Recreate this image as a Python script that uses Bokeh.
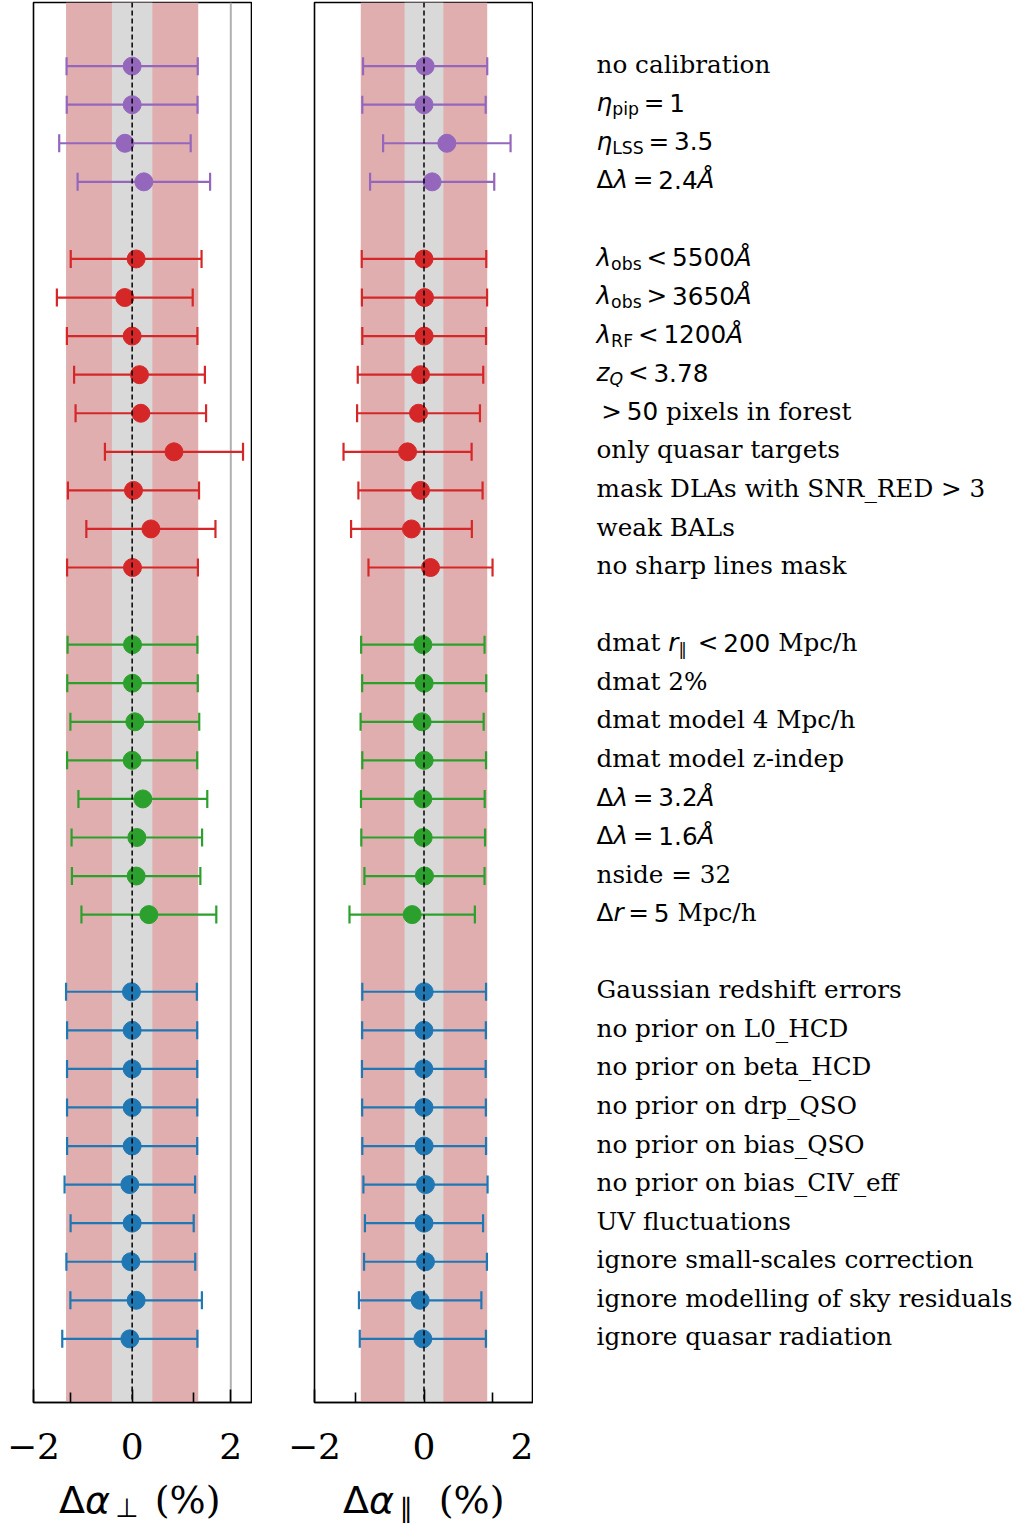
import numpy as np
from bokeh.plotting import figure
from bokeh.layouts import row, column
from bokeh.models import (Range1d, FixedTicker, CustomJSTickFormatter, Span,
                          BoxAnnotation, ColumnDataSource)
from bokeh.core.properties import value
from bokeh.embed import file_html
from bokeh.resources import INLINE

# ---------------- data ----------------
labels_purple = ["no calibration", "η_pip = 1", "η_LSS = 3.5", "Δλ = 2.4Å"]
perp_purple = [0.0, 0.0, -0.146, 0.237]
perp_err_purple = [1.330, 1.326, 1.333, 1.343]
par_purple = [0.021, 0.0, 0.417, 0.149]
par_err_purple = [1.134, 1.127, 1.164, 1.134]

labels_red = ["λ_obs < 5500Å", "λ_obs > 3650Å", "λ_RF < 1200Å", "z_Q < 3.78",
              "> 50 pixels in forest", "only quasar targets",
              "mask DLAs with SNR_RED > 3", "weak BALs", "no sharp lines mask"]
perp_red = [0.081, -0.149, 0.0, 0.149, 0.176, 0.848, 0.027, 0.380, 0.007]
perp_err_red = [1.326, 1.377, 1.323, 1.326, 1.323, 1.400, 1.329, 1.309, 1.326]
par_red = [0.0, 0.009, 0.003, -0.064, -0.100, -0.300, -0.064, -0.229, 0.119]
par_err_red = [1.137, 1.143, 1.130, 1.146, 1.122, 1.170, 1.134, 1.103, 1.133]

labels_green = ["dmat r_∥ < 200 Mpc/h", "dmat 2%", "dmat model 4 Mpc/h",
                "dmat model z-indep", "Δλ = 3.2Å", "Δλ = 1.6Å", "nside = 32",
                "Δr = 5 Mpc/h"]
perp_green = [0.007, 0.007, 0.054, 0.0, 0.217, 0.095, 0.081, 0.339]
perp_err_green = [1.316, 1.323, 1.306, 1.319, 1.306, 1.323, 1.302, 1.367]
par_green = [-0.021, 0.003, -0.034, 0.003, -0.021, -0.015, 0.009, -0.216]
par_err_green = [1.127, 1.133, 1.124, 1.130, 1.130, 1.130, 1.097, 1.145]

labels_blue = ["Gaussian redshift errors", "no prior on L0_HCD",
               "no prior on beta_HCD", "no prior on drp_QSO",
               "no prior on bias_QSO", "no prior on bias_CIV_eff",
               "UV fluctuations", "ignore small-scales correction",
               "ignore modelling of sky residuals", "ignore quasar radiation"]
perp_blue = [-0.014, 0.0, 0.0, 0.0, 0.0, -0.047, 0.0, -0.027, 0.081, -0.047]
perp_err_blue = [1.326, 1.319, 1.320, 1.320, 1.319, 1.323, 1.248, 1.306, 1.333, 1.370]
par_blue = [0.003, 0.0, -0.003, 0.0, 0.003, 0.027, 0.0, 0.027, -0.070, -0.021]
par_err_blue = [1.130, 1.130, 1.130, 1.130, 1.130, 1.134, 1.079, 1.122, 1.118, 1.152]

# reference bands (1 sigma and core) for each parameter
band_perp = 1.34
core_perp = 0.41
band_par = 1.155
core_par = 0.355

x_ticks = [-2, 0, 2]
x_minor_ticks = [-1.25, 1.25]

groups = [
    dict(color="#9467bd", labels=labels_purple, perp=perp_purple, perp_err=perp_err_purple,
         par=par_purple, par_err=par_err_purple),
    dict(color="#d62728", labels=labels_red, perp=perp_red, perp_err=perp_err_red,
         par=par_red, par_err=par_err_red),
    dict(color="#2ca02c", labels=labels_green, perp=perp_green, perp_err=perp_err_green,
         par=par_green, par_err=par_err_green),
    dict(color="#1f77b4", labels=labels_blue, perp=perp_blue, perp_err=perp_err_blue,
         par=par_blue, par_err=par_err_blue),
]

# rich-text markup of labels (S serif text, M math upright, I math italic,
# R math relation, s / si subscript, sR subscript relation)
LABEL_MARKUP = {
    "η_pip = 1": [("η", "I"), ("pip", "s"), ("=", "R"), ("1", "M")],
    "η_LSS = 3.5": [("η", "I"), ("LSS", "s"), ("=", "R"), ("3.5", "M")],
    "Δλ = 2.4Å": [("Δ", "M"), ("λ", "I"), ("=", "R"), ("2.4", "M"), ("Å", "I")],
    "Δλ = 3.2Å": [("Δ", "M"), ("λ", "I"), ("=", "R"), ("3.2", "M"), ("Å", "I")],
    "Δλ = 1.6Å": [("Δ", "M"), ("λ", "I"), ("=", "R"), ("1.6", "M"), ("Å", "I")],
    "λ_obs < 5500Å": [("λ", "I"), ("obs", "s"), ("<", "R"), ("5500", "M"), ("Å", "I")],
    "λ_obs > 3650Å": [("λ", "I"), ("obs", "s"), (">", "R"), ("3650", "M"), ("Å", "I")],
    "λ_RF < 1200Å": [("λ", "I"), ("RF", "s"), ("<", "R"), ("1200", "M"), ("Å", "I")],
    "z_Q < 3.78": [("z", "I"), ("Q", "si"), ("<", "R"), ("3.78", "M")],
    "> 50 pixels in forest": [(">", "R"), ("50", "M"), (" pixels in forest", "S")],
    "dmat r_∥ < 200 Mpc/h": [("dmat ", "S"), ("r", "I"), ("∥", "s"), ("<", "R"),
                             ("200", "M"), (" Mpc/h", "S")],
    "Δr = 5 Mpc/h": [("Δ", "M"), ("r", "I"), ("=", "R"), ("5", "M"), (" Mpc/h", "S")],
}
AXIS_TITLE_PERP = [("Δ", "M"), ("α", "I"), ("⊥", "sR"), (" (%)", "S")]
AXIS_TITLE_PAR = [("Δ", "M"), ("α", "I"), ("∥", "sR"), (" (%)", "S")]

# font advance widths (em) of DejaVu Sans / DejaVu Serif
SANS_ADV = {**{d: 0.636 for d in "0123456789"}, ".": 0.318, "=": 0.838, "<": 0.838,
            ">": 0.838, "Δ": 0.684, "λ": 0.592, "η": 0.634, "α": 0.659, "r": 0.411,
            "z": 0.525, "Å": 0.684, "Q": 0.787, "L": 0.557, "S": 0.635, "R": 0.695,
            "F": 0.575, "o": 0.612, "b": 0.635, "s": 0.521, "p": 0.635, "i": 0.278,
            "∥": 0.838, "⊥": 0.838, " ": 0.318}
SERIF_ADV = {" ": 0.318, "d": 0.640, "m": 0.948, "a": 0.596, "t": 0.402}
M_WIDTH = 0.974  # width of 'm' in DejaVu Sans, used for relation spacing

SERIF = "DejaVu Serif"
SANS = "DejaVu Sans"

# ---------------- layout constants ----------------
TOP = 2
FRAME_H = 1400
BOTTOM = 76
H = TOP + FRAME_H + BOTTOM
STRIP_H = 1526 - H
Y_RANGE = (34.65, -1.65)
PPU = FRAME_H / (Y_RANGE[0] - Y_RANGE[1])
FRAME_W = 219
FS = 24.7
SUB = 0.7
BASE_BIAS = 0.28   # em; renderer shift of alphabetic baseline
SUB_DROP = 4.5     # px
ROW_BASE = 5       # px, text baseline offset from row centre

# row positions (gap of one row between groups)
ys_by_group = []
pos = 0
for g in groups:
    n = len(g["labels"])
    ys_by_group.append(list(range(pos, pos + n)))
    pos += n + 1


def layout_tokens(tokens, fs):
    """Return list of (text, font, style, size_px, x_px, drop_px)."""
    out = []
    x = 0.0
    for text, kind in tokens:
        is_sub = kind.startswith("s")
        size = fs * SUB if is_sub else fs
        rel = kind in ("R", "sR")
        table = SERIF_ADV if kind == "S" else SANS_ADV
        font = SERIF if kind == "S" else SANS
        style = "italic" if kind in ("I", "si") else "normal"
        stripped = text.lstrip(" ")
        x += (len(text) - len(stripped)) * table[" "] * size
        if rel:
            x += 0.2 * M_WIDTH * size
        out.append((stripped, font, style, size, x, SUB_DROP if is_sub else 0.0))
        x += sum(table.get(c, 0.6) for c in stripped) * size
        if rel:
            x += 0.2 * M_WIDTH * size
    return out


def make_panel(xr, left_border, band, core, key, err_key, gray_line=None):
    p = figure(width=left_border + FRAME_W, height=H,
               x_range=Range1d(*xr), y_range=Range1d(*Y_RANGE),
               output_backend="svg", toolbar_location=None,
               y_axis_location=None,
               min_border_left=left_border, min_border_right=0,
               min_border_top=TOP, min_border_bottom=BOTTOM)
    p.grid.visible = False
    p.outline_line_color = "black"
    p.outline_line_width = 1.6
    p.outline_line_alpha = 1.0
    p.add_layout(BoxAnnotation(left=-band, right=band, fill_color="#e0aeae",
                               fill_alpha=1.0, line_color=None, level="underlay"))
    p.add_layout(BoxAnnotation(left=-core, right=core, fill_color="#d9d9d9",
                               fill_alpha=1.0, line_color=None, level="underlay"))
    if gray_line is not None:
        p.add_layout(Span(location=gray_line, dimension="height", line_color="#b0b0b0",
                          line_width=2, level="underlay"))
    for g, ys in zip(groups, ys_by_group):
        x = np.array(g[key], dtype=float)
        e = np.array(g[err_key], dtype=float)
        src = ColumnDataSource(dict(y=ys, x=x, lo=x - e, hi=x + e))
        c = g["color"]
        p.segment(x0="lo", x1="hi", y0="y", y1="y", line_color=c, line_width=2.2, source=src)
        p.scatter(x="lo", y="y", marker="dash", angle=np.pi / 2, size=18,
                  line_color=c, line_width=2.2, source=src)
        p.scatter(x="hi", y="y", marker="dash", angle=np.pi / 2, size=18,
                  line_color=c, line_width=2.2, source=src)
        p.scatter(x="x", y="y", marker="circle", size=18, fill_color=c,
                  line_color=c, line_width=1, source=src)
    p.add_layout(Span(location=0, dimension="height", line_color="black",
                      line_width=1.5, line_dash="5 3"))
    ax = p.xaxis[0]
    ax.ticker = FixedTicker(ticks=x_ticks, minor_ticks=x_minor_ticks)
    ax.formatter = CustomJSTickFormatter(
        code="return tick < 0 ? '\u2212' + Math.abs(tick) : String(tick);")
    ax.axis_line_color = "black"
    ax.axis_line_width = 1.6
    ax.major_tick_in = 13
    ax.major_tick_out = 0
    ax.minor_tick_in = 10
    ax.minor_tick_out = 0
    ax.major_tick_line_width = 1.6
    ax.minor_tick_line_width = 1.6
    ax.major_tick_line_color = "black"
    ax.minor_tick_line_color = "black"
    ax.major_label_text_font = SERIF
    ax.major_label_text_font_size = "36px"
    ax.major_label_text_color = "black"
    ax.major_label_standoff = 30
    return p


def add_rich_text(p, items):
    """items: list of (text, font, style, size, x, y) in data units."""
    groups_ = {}
    for text, font, style, size, x, y in items:
        k = (font, style, size)
        d = groups_.setdefault(k, dict(x=[], y=[], text=[]))
        d["x"].append(x)
        d["y"].append(y)
        d["text"].append(text)
    for (font, style, size), d in groups_.items():
        p.text(x="x", y="y", text="text", source=ColumnDataSource(d),
               text_font=value(font), text_font_style=value(style),
               text_font_size=value(f"{size:.2f}px"), text_baseline="alphabetic",
               text_align="left", text_color="black")


xr_perp = (-2.0, 2.44)
xr_par = (-2.0, 2.0)
p1 = make_panel(xr_perp, 33, band_perp, core_perp, "perp", "perp_err", gray_line=2)
p2 = make_panel(xr_par, 62, band_par, core_par, "par", "par_err")

# ---------------- axis titles strip ----------------
strip = figure(width=p1.width + p2.width, height=STRIP_H,
               x_range=Range1d(0, p1.width + p2.width), y_range=Range1d(STRIP_H, 0),
               output_backend="svg", toolbar_location=None,
               x_axis_location=None, y_axis_location=None,
               min_border_left=0, min_border_right=0, min_border_top=0, min_border_bottom=0)
strip.grid.visible = False
strip.outline_line_color = None
TITLE_FS = 38
TITLE_BASE = 32  # px from strip top
items = []
for tokens, x0 in ((AXIS_TITLE_PERP, 58.5), (AXIS_TITLE_PAR, 342.5)):
    for text, font, style, size, x, drop in layout_tokens(tokens, TITLE_FS):
        items.append((text, font, style, size, x0 + x,
                      TITLE_BASE + drop - BASE_BIAS * size))
add_rich_text(strip, items)

# ---------------- text panel ----------------
W3 = 1022 - p1.width - p2.width
TEXT_X0 = 63
pt = figure(width=W3, height=H, x_range=Range1d(0, W3), y_range=Range1d(*Y_RANGE),
            output_backend="svg", toolbar_location=None,
            x_axis_location=None, y_axis_location=None,
            min_border_left=0, min_border_right=0,
            min_border_top=TOP, min_border_bottom=BOTTOM)
pt.grid.visible = False
pt.outline_line_color = None

items = []
for g, ys in zip(groups, ys_by_group):
    for lab, yv in zip(g["labels"], ys):
        tokens = LABEL_MARKUP.get(lab, [(lab, "S")])
        for text, font, style, size, x, drop in layout_tokens(tokens, FS):
            y_px = ROW_BASE + drop - BASE_BIAS * size
            items.append((text, font, style, size, TEXT_X0 + x, yv + y_px / PPU))
add_rich_text(pt, items)

layout = row(column(row(p1, p2), strip), pt)
open("out.html", "w").write(file_html(layout, INLINE))
